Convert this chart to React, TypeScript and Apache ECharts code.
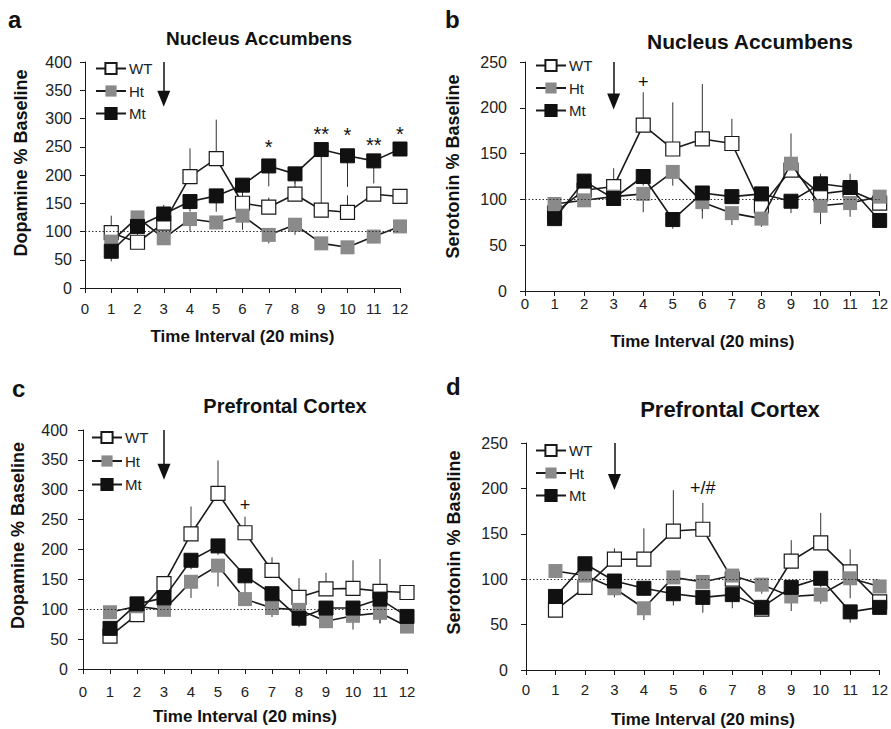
import React, { useEffect, useRef } from "react";
import * as echarts from "echarts";

// ---------- data ----------
const intervals = [1, 2, 3, 4, 5, 6, 7, 8, 9, 10, 11, 12];
const groupNames = ["WT", "Ht", "Mt"];
const xTicks = [0, 1, 2, 3, 4, 5, 6, 7, 8, 9, 10, 11, 12];

// a: Nucleus Accumbens, dopamine
const naDaWT = [98, 81, 115, 197, 229, 150, 143, 166, 138, 134, 166, 162];
const naDaHt = [82, 125, 88, 122, 116, 128, 94, 112, 79, 72, 91, 109];
const naDaMt = [65, 109, 131, 153, 163, 182, 216, 202, 245, 234, 225, 246];
const naDaWTErr = [30, 0, 32, 50, 69, 10, 17, 22, 12, 30, 9, 0];
const naDaHtErr = [12, 20, 8, 22, 11, 25, 15, 18, 7, 7, 6, 9];
const naDaMtErr = [18, 15, 16, 18, 28, 32, 36, 17, 100, 55, 40, 8];
const naDaNoteX = [7, 9, 10, 11, 12];
const naDaNoteY = [250, 272, 270, 253, 273];
const naDaNoteText = ["*", "**", "*", "**", "*"];

// b: Nucleus Accumbens, serotonin
const naSeWT = [85, 110, 114, 181, 155, 166, 161, 93, 132, 106, 110, 96];
const naSeHt = [95, 99, 103, 106, 130, 97, 85, 79, 139, 93, 96, 103];
const naSeMt = [79, 120, 101, 125, 78, 107, 103, 106, 98, 117, 113, 77];
const naSeWTErr = [0, 5, 20, 36, 51, 60, 27, 5, 40, 22, 18, 5];
const naSeHtErr = [5, 5, 5, 20, 15, 10, 13, 9, 10, 20, 15, 5];
const naSeMtErr = [5, 5, 5, 10, 10, 28, 8, 10, 13, 10, 10, 5];
const naSeNoteX = [4];
const naSeNoteY = [228];
const naSeNoteText = ["+"];

// c: Prefrontal Cortex, dopamine
const pfDaWT = [55, 91, 143, 226, 294, 228, 165, 120, 134, 135, 130, 128];
const pfDaHt = [95, 105, 99, 146, 173, 117, 102, 99, 80, 89, 94, 71];
const pfDaMt = [68, 109, 119, 182, 206, 156, 126, 85, 102, 102, 117, 88];
const pfDaWTErr = [0, 5, 10, 46, 55, 27, 22, 32, 27, 47, 54, 0];
const pfDaHtErr = [5, 5, 10, 27, 35, 10, 15, 25, 9, 23, 18, 5];
const pfDaMtErr = [10, 5, 10, 15, 15, 40, 20, 15, 10, 10, 40, 10];
const pfDaNoteX = [6];
const pfDaNoteY = [275];
const pfDaNoteText = ["+"];

// d: Prefrontal Cortex, serotonin
const pfSeWT = [66, 91, 122, 122, 153, 155, 100, 67, 120, 140, 108, 75];
const pfSeHt = [109, 104, 90, 68, 102, 97, 104, 94, 81, 83, 101, 92];
const pfSeMt = [81, 117, 98, 90, 84, 80, 83, 69, 91, 101, 64, 69];
const pfSeWTErr = [0, 0, 12, 34, 45, 29, 5, 0, 23, 33, 25, 0];
const pfSeHtErr = [5, 5, 10, 13, 5, 5, 10, 10, 16, 10, 22, 5];
const pfSeMtErr = [8, 5, 10, 8, 13, 17, 15, 8, 10, 10, 12, 5];
const pfSeNoteX = [6];
const pfSeNoteY = [200];
const pfSeNoteText = ["+/#"];

// treatment arrow (x, from, to) and baseline
const baseline = 100;
const arrowX = 3;
const arrowA = [400, 335];
const arrowB = [250, 207];
const arrowC = [400, 330];
const arrowD = [250, 207];

const panelTitles = ["Nucleus Accumbens", "Nucleus Accumbens", "Prefrontal Cortex", "Prefrontal Cortex"];
const panelLetters = ["a", "b", "c", "d"];
const yNames = ["Dopamine % Baseline", "Serotonin % Baseline", "Dopamine % Baseline", "Serotonin % Baseline"];
const yMaxes = [400, 250, 400, 250];
const xName = "Time Interval (20 mins)";

// ---------- layout / style ----------
const FONT = "'Liberation Sans', Arial, Helvetica, sans-serif";
const INK = "#1a1a1a";
const GREY = "#8a8a8a";

const layouts = [
  { grid: { left: 85, top: 62, width: 315, height: 226 }, legend: { left: 95, top: 61, gap: 7.5 }, title: [259, 38], titleSize: 19, letter: [8, 7], yGap: 55, yShift: 12, xGap: 40, xMargin: 13, yMargin: 13 },
  { grid: { left: 525, top: 62, width: 357, height: 229 }, legend: { left: 535, top: 58, gap: 7.5 }, title: [750, 41], titleSize: 21, letter: [445, 7], yGap: 63, yShift: 10, xGap: 42, xMargin: 5, yMargin: 18 },
  { grid: { left: 83, top: 430, width: 324, height: 239 }, legend: { left: 91, top: 430, gap: 8.5 }, title: [285, 406], titleSize: 20, letter: [12, 376], yGap: 56, yShift: 14, xGap: 39, xMargin: 15, yMargin: 15 },
  { grid: { left: 526, top: 443, width: 357, height: 230 }, legend: { left: 535, top: 443, gap: 7.5 }, title: [730, 409], titleSize: 22, letter: [446, 374], yGap: 63, yShift: 14, xGap: 41, xMargin: 12, yMargin: 18 },
];

const panels = [
  { vals: [naDaWT, naDaHt, naDaMt], errs: [naDaWTErr, naDaHtErr, naDaMtErr], noteX: naDaNoteX, noteY: naDaNoteY, noteText: naDaNoteText, arrow: arrowA, noteSize: 20 },
  { vals: [naSeWT, naSeHt, naSeMt], errs: [naSeWTErr, naSeHtErr, naSeMtErr], noteX: naSeNoteX, noteY: naSeNoteY, noteText: naSeNoteText, arrow: arrowB, noteSize: 18 },
  { vals: [pfDaWT, pfDaHt, pfDaMt], errs: [pfDaWTErr, pfDaHtErr, pfDaMtErr], noteX: pfDaNoteX, noteY: pfDaNoteY, noteText: pfDaNoteText, arrow: arrowC, noteSize: 18 },
  { vals: [pfSeWT, pfSeHt, pfSeMt], errs: [pfSeWTErr, pfSeHtErr, pfSeMtErr], noteX: pfSeNoteX, noteY: pfSeNoteY, noteText: pfSeNoteText, arrow: arrowD, noteSize: 18 },
];

// error direction per group: WT up, Ht down, Mt down
const errDir = [1, -1, -1];

const groupStyles = [
  { itemStyle: { color: "#ffffff", borderColor: INK, borderWidth: 1.2 } },
  { itemStyle: { color: GREY, borderColor: GREY, borderWidth: 0 } },
  { itemStyle: { color: "#111111", borderColor: "#111111", borderWidth: 1 } },
];

function buildOption() {
  const series: any[] = [];
  panels.forEach((p, i) => {
    // error bars
    p.vals.forEach((vals, g) => {
      series.push({
        type: "custom",
        name: groupNames[g] + "-err",
        xAxisIndex: i,
        yAxisIndex: i,
        silent: true,
        z: 1,
        data: intervals.map((x, k) => [x, vals[k], vals[k] + errDir[g] * p.errs[g][k]]),
        encode: { x: 0, y: [1, 2] },
        renderItem: (params: any, api: any) => {
          const a = api.coord([api.value(0), api.value(1)]);
          const b = api.coord([api.value(0), api.value(2)]);
          return {
            type: "line",
            shape: { x1: a[0], y1: a[1], x2: b[0], y2: b[1] },
            style: { stroke: "#333", lineWidth: 1 },
          };
        },
      });
    });
    // lines
    p.vals.forEach((vals, g) => {
      const s: any = {
        type: "line",
        name: groupNames[g],
        xAxisIndex: i,
        yAxisIndex: i,
        z: 3 + g,
        symbol: "rect",
        symbolSize: 14,
        data: intervals.map((x, k) => [x, vals[k]]),
        lineStyle: { color: INK, width: 1.6 },
        itemStyle: groupStyles[g].itemStyle,
      };
      if (g === 0) {
        s.markLine = {
          silent: true,
          symbol: ["none", "none"],
          label: { show: false },
          data: [
            { yAxis: baseline, lineStyle: { type: [1.5, 2], color: "#333", width: 1 } },
            [
              { coord: [arrowX, p.arrow[0]], symbol: "none", lineStyle: { type: "solid", color: "#111", width: 1.5 } },
              { coord: [arrowX, p.arrow[1]], symbol: "triangle", symbolSize: [13, 16], symbolRotate: 180 },
            ],
          ],
        };
      }
      series.push(s);
    });
    // annotations
    const noteSize = p.noteSize;
    series.push({
      type: "custom",
      name: "notes",
      xAxisIndex: i,
      yAxisIndex: i,
      z: 10,
      silent: true,
      data: p.noteX.map((x, k) => [x, p.noteY[k], k]),
      encode: { x: 0, y: 1 },
      renderItem: (params: any, api: any) => {
        const pt = api.coord([api.value(0), api.value(1)]);
        return {
          type: "text",
          x: pt[0],
          y: pt[1],
          style: {
            text: p.noteText[api.value(2)],
            font: `${noteSize}px ${FONT}`,
            fill: "#111",
            align: "center",
            verticalAlign: "middle",
          },
        };
      },
    });
  });

  const grids = layouts.map((l) => l.grid);
  const xAxes = layouts.map((l, i) => ({
    type: "value",
    gridIndex: i,
    min: xTicks[0],
    max: xTicks[xTicks.length - 1],
    interval: 1,
    name: xName,
    nameLocation: "middle",
    nameGap: l.xGap,
    nameTextStyle: { fontFamily: FONT, fontWeight: "bold", fontSize: 17, color: "#111" },
    axisLine: { show: true, onZero: false, lineStyle: { color: INK, width: 1 } },
    axisTick: { show: true, length: 5, lineStyle: { color: INK } },
    axisLabel: { fontFamily: FONT, fontSize: 15, color: "#222", margin: l.xMargin },
    splitLine: { show: false },
  }));
  const yAxes = layouts.map((l, i) => ({
    type: "value",
    gridIndex: i,
    min: 0,
    max: yMaxes[i],
    interval: 50,
    name: yNames[i],
    nameLocation: "middle",
    nameGap: l.yGap,
    nameTextStyle: {
      fontFamily: FONT,
      fontWeight: "bold",
      fontSize: 18,
      color: "#111",
      padding: [0, 0, 0, l.yShift * 2],
    },
    axisLine: { show: true, lineStyle: { color: INK, width: 1 } },
    axisTick: { show: true, length: 5, lineStyle: { color: INK } },
    axisLabel: { fontFamily: FONT, fontSize: 16, color: "#222", margin: l.yMargin },
    splitLine: { show: false },
  }));
  const legends = layouts.map((l) => ({
    data: groupNames,
    orient: "vertical",
    left: l.legend.left,
    top: l.legend.top,
    itemGap: l.legend.gap,
    itemWidth: 30,
    itemHeight: 14,
    padding: 0,
    selectedMode: false,
    textStyle: { fontFamily: FONT, fontSize: 15, color: "#222", padding: [0, 0, 0, -2] },
  }));
  const graphics: any[] = [];
  layouts.forEach((l, i) => {
    graphics.push({
      type: "text",
      x: l.letter[0],
      y: l.letter[1],
      style: { text: panelLetters[i], font: `bold 24px ${FONT}`, fill: "#111" },
    });
    graphics.push({
      type: "text",
      x: l.title[0],
      y: l.title[1],
      style: {
        text: panelTitles[i],
        font: `bold ${l.titleSize}px ${FONT}`,
        fill: "#111",
        textAlign: "center",
        textVerticalAlign: "middle",
      },
    });
  });

  return {
    animation: false,
    backgroundColor: "#ffffff",
    grid: grids,
    xAxis: xAxes,
    yAxis: yAxes,
    legend: legends,
    graphic: graphics,
    series,
  };
}

export default function App() {
  const ref = useRef<HTMLDivElement>(null);
  useEffect(() => {
    if (!ref.current) return;
    const chart = echarts.init(ref.current, undefined, { renderer: "svg" });
    chart.setOption(buildOption() as any);
    return () => chart.dispose();
  }, []);
  return (
    <div
      ref={ref}
      style={{ position: "absolute", left: 0, top: 0, width: 891, height: 729, background: "#fff" }}
    />
  );
}
